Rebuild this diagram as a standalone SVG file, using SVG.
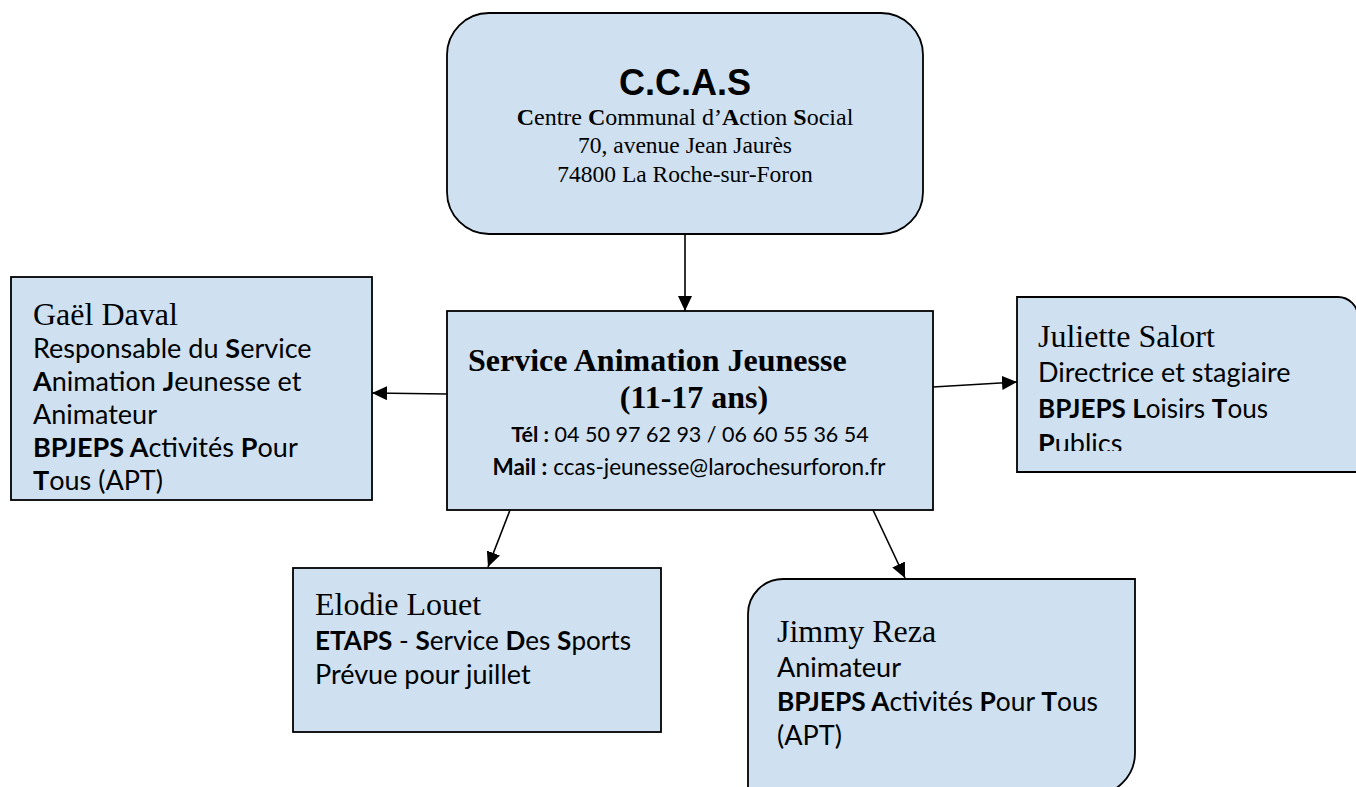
<svg xmlns="http://www.w3.org/2000/svg" width="1356" height="787" viewBox="0 0 1356 787">
<style>
.box{fill:#cfe0f1;stroke:#000;stroke-width:1.8}
.conn{stroke:#000;stroke-width:1.6;fill:none;marker-end:url(#arr)}
.tnr{font-family:"Liberation Serif","Times New Roman",serif;fill:#000}
.cal{font-family:Lato,"Liberation Sans",sans-serif;fill:#000}
.b{font-weight:bold}
</style>
<defs>
<marker id="arr" markerUnits="userSpaceOnUse" markerWidth="16" markerHeight="14" refX="15" refY="7" orient="auto">
<path d="M0,0 L15,7 L0,14 Z" fill="#000"/>
</marker>
<clipPath id="julClip"><rect x="1017" y="297" width="345" height="154"/></clipPath>
</defs>
<rect width="1356" height="787" fill="#fff"/>

<g id="connectors">
<line class="conn" x1="685" y1="234" x2="685" y2="311"/>
<line class="conn" x1="447" y1="394" x2="372" y2="393"/>
<line class="conn" x1="933" y1="387" x2="1017" y2="382"/>
<line class="conn" x1="510" y1="510" x2="488" y2="567"/>
<line class="conn" x1="873" y1="510" x2="905" y2="578"/>
</g>

<g id="ccas">
<rect class="box" x="447" y="13" width="476" height="221" rx="42" ry="42"/>
<text x="685" y="95" text-anchor="middle" font-family="'Liberation Sans',Arial,sans-serif" font-weight="bold" font-size="36">C.C.A.S</text>
<text class="tnr" x="685" y="125" text-anchor="middle" font-size="24"><tspan class="b">C</tspan>entre <tspan class="b">C</tspan>ommunal d’<tspan class="b">A</tspan>ction <tspan class="b">S</tspan>ocial</text>
<text class="tnr" x="685" y="153" text-anchor="middle" font-size="23.5">70, avenue Jean Jaurès</text>
<text class="tnr" x="685" y="182" text-anchor="middle" font-size="23.5">74800 La Roche-sur-Foron</text>
</g>

<g id="service">
<rect class="box" x="447" y="311" width="486" height="199"/>
<text class="tnr b" x="468" y="371" font-size="32">Service Animation Jeunesse</text>
<text class="tnr b" x="694" y="408" text-anchor="middle" font-size="32">(11-17 ans)</text>
<text class="cal" x="690" y="442" text-anchor="middle" font-size="21.5"><tspan class="b">Tél :</tspan> 04 50 97 62 93 / 06 60 55 36 54</text>
<text class="cal" x="689" y="475" text-anchor="middle" font-size="22.5"><tspan class="b">Mail :</tspan> ccas-jeunesse@larochesurforon.fr</text>
</g>

<g id="gael">
<rect class="box" x="11" y="277" width="361" height="223"/>
<text class="tnr" x="33" y="325" font-size="32">Gaël Daval</text>
<text class="cal" x="33" y="358" font-size="27">Responsable du <tspan class="b">S</tspan>ervice</text>
<text class="cal" x="33" y="391" font-size="27"><tspan class="b">A</tspan>nimation <tspan class="b">J</tspan>eunesse et</text>
<text class="cal" x="33" y="424" font-size="27">Animateur</text>
<text class="cal" x="33" y="457" font-size="27"><tspan class="b">BPJEPS A</tspan>ctivités <tspan class="b">P</tspan>our</text>
<text class="cal" x="33" y="490" font-size="27"><tspan class="b">T</tspan>ous (APT)</text>
</g>

<g id="juliette">
<path class="box" d="M1017,297 H1338 A20,20 0 0 1 1358,317 V472 H1017 Z"/>
<g clip-path="url(#julClip)">
<text class="tnr" x="1038" y="347" font-size="32">Juliette Salort</text>
<text class="cal" x="1038" y="382" font-size="27">Directrice et stagiaire</text>
<text class="cal" x="1038" y="418" font-size="27" textLength="230" lengthAdjust="spacingAndGlyphs"><tspan class="b">BPJEPS L</tspan>oisirs <tspan class="b">T</tspan>ous</text>
<text class="cal" x="1038" y="453" font-size="27"><tspan class="b">P</tspan>ublics</text>
</g>
</g>

<g id="elodie">
<rect class="box" x="293" y="568" width="368" height="164"/>
<text class="tnr" x="315" y="615" font-size="32">Elodie Louet</text>
<text class="cal" x="315" y="650" font-size="27" textLength="316" lengthAdjust="spacingAndGlyphs"><tspan class="b">ETAPS</tspan> - <tspan class="b">S</tspan>ervice <tspan class="b">D</tspan>es <tspan class="b">S</tspan>ports</text>
<text class="cal" x="315" y="684" font-size="27">Prévue pour juillet</text>
</g>

<g id="jimmy">
<path class="box" d="M748,614 A35,35 0 0 1 783,579 H1135 V753 A42,42 0 0 1 1093,795 H748 Z"/>
<text class="tnr" x="777" y="642" font-size="32">Jimmy Reza</text>
<text class="cal" x="777" y="677" font-size="27">Animateur</text>
<text class="cal" x="777" y="711" font-size="27" textLength="321" lengthAdjust="spacingAndGlyphs"><tspan class="b">BPJEPS A</tspan>ctivités <tspan class="b">P</tspan>our <tspan class="b">T</tspan>ous</text>
<text class="cal" x="777" y="745" font-size="27">(APT)</text>
</g>
</svg>
